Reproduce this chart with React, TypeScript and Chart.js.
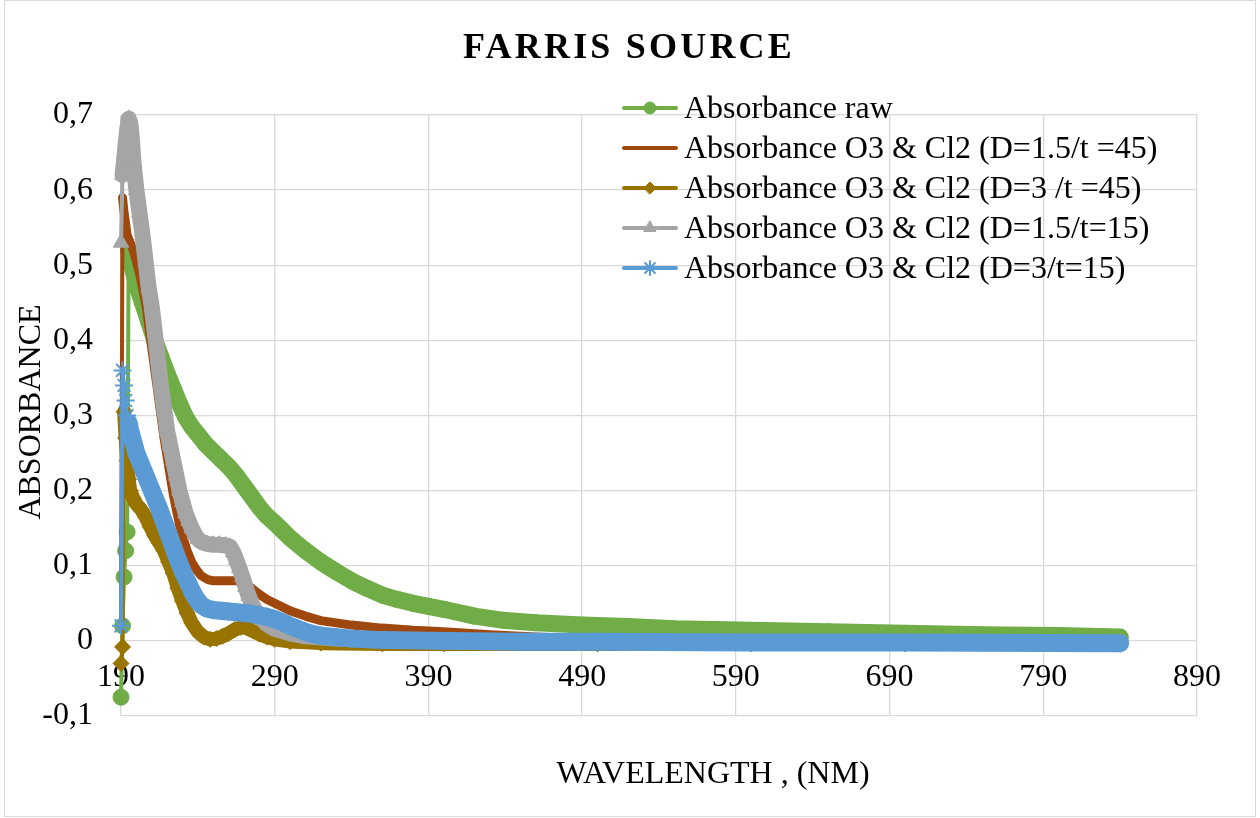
import React, { useEffect, useRef } from 'react';
import { Chart, registerables } from 'chart.js';
import { drawPoint } from 'chart.js/helpers';

Chart.register(...registerables);

const chartTitle = 'FARRIS SOURCE';
const xAxisTitle = 'WAVELENGTH , (NM)';
const yAxisTitle = 'ABSORBANCE';

const xTicks = [190, 290, 390, 490, 590, 690, 790, 890];
const yTicks = [-0.1, 0, 0.1, 0.2, 0.3, 0.4, 0.5, 0.6, 0.7];

const seriesNames = [
  'Absorbance raw',
  'Absorbance O3 & Cl2 (D=1.5/t =45)',
  'Absorbance O3 & Cl2 (D=3 /t =45)',
  'Absorbance O3 & Cl2 (D=1.5/t=15)',
  'Absorbance O3 & Cl2 (D=3/t=15)',
];

// Absorbance raw
const rawWl = [190, 191, 192, 193, 194, 195, 197, 200, 204, 208, 212, 216, 220, 224, 228, 232, 236, 240, 245, 250, 255, 260, 265, 270, 275, 280, 285, 290, 295, 300, 310, 320, 330, 340, 350, 360, 370, 380, 390, 400, 420, 440, 460, 490, 520, 550, 600, 650, 700, 750, 800, 840];
const rawAbs = [-0.075, 0.02, 0.085, 0.12, 0.145, 0.52, 0.5, 0.475, 0.45, 0.425, 0.4, 0.378, 0.356, 0.336, 0.316, 0.298, 0.285, 0.275, 0.262, 0.252, 0.242, 0.232, 0.22, 0.206, 0.192, 0.178, 0.166, 0.157, 0.147, 0.137, 0.12, 0.105, 0.092, 0.08, 0.07, 0.061, 0.055, 0.05, 0.046, 0.042, 0.033, 0.027, 0.024, 0.021, 0.019, 0.016, 0.014, 0.012, 0.01, 0.008, 0.007, 0.005];

// D=1.5 / t=45
const d15t45Wl = [190, 191, 192, 193, 194, 196, 198, 200, 202, 204, 206, 208, 210, 212, 214, 216, 218, 220, 222, 224, 226, 228, 230, 233, 236, 239, 242, 246, 250, 255, 260, 265, 270, 275, 280, 285, 290, 300, 310, 320, 340, 360, 380, 400, 430, 460, 500, 550, 600, 700, 840];
const d15t45Abs = [0.02, 0.59, 0.57, 0.555, 0.54, 0.53, 0.52, 0.505, 0.49, 0.47, 0.45, 0.42, 0.39, 0.36, 0.33, 0.3, 0.27, 0.245, 0.22, 0.195, 0.175, 0.155, 0.14, 0.12, 0.105, 0.095, 0.087, 0.082, 0.08, 0.08, 0.08, 0.08, 0.077, 0.07, 0.062, 0.055, 0.05, 0.04, 0.033, 0.027, 0.021, 0.017, 0.014, 0.012, 0.008, 0.005, 0.002, 0.001, 0, -0.001, -0.001];

// D=3 / t=45
const d3t45Wl = [190, 191, 192, 193, 194, 195, 196, 198, 200, 203, 206, 209, 212, 215, 218, 221, 224, 227, 230, 233, 236, 240, 244, 248, 252, 256, 260, 264, 268, 272, 276, 280, 285, 290, 300, 320, 360, 400, 500, 600, 700, 840];
const d3t45Abs = [-0.03, -0.008, 0.305, 0.27, 0.24, 0.215, 0.2, 0.19, 0.182, 0.175, 0.165, 0.152, 0.14, 0.13, 0.12, 0.105, 0.09, 0.07, 0.053, 0.037, 0.024, 0.012, 0.005, 0.002, 0.003, 0.006, 0.01, 0.015, 0.018, 0.017, 0.013, 0.009, 0.005, 0.002, -0.001, -0.003, -0.004, -0.004, -0.004, -0.004, -0.004, -0.004];

// D=1.5 / t=15
const d15t15Wl = [190, 191, 192, 193, 194, 195, 196, 197, 198, 199, 200, 202, 204, 206, 208, 210, 212, 214, 216, 218, 220, 222, 224, 226, 228, 230, 232, 234, 236, 238, 240, 243, 246, 250, 254, 258, 261, 263, 265, 267, 269, 271, 273, 275, 278, 282, 286, 290, 300, 310, 330, 360, 400, 500, 600, 700, 840];
const d15t15Abs = [0.53, 0.62, 0.64, 0.66, 0.68, 0.695, 0.69, 0.67, 0.64, 0.62, 0.6, 0.57, 0.54, 0.505, 0.47, 0.445, 0.41, 0.375, 0.34, 0.31, 0.28, 0.26, 0.24, 0.22, 0.2, 0.185, 0.17, 0.16, 0.15, 0.142, 0.136, 0.131, 0.129, 0.128, 0.128, 0.127, 0.125, 0.118, 0.108, 0.097, 0.085, 0.072, 0.06, 0.05, 0.038, 0.028, 0.021, 0.016, 0.01, 0.006, 0.003, 0.001, 0, -0.001, -0.002, -0.002, -0.002];

// D=3 / t=15
const d3t15Wl = [190, 191, 192, 193, 194, 195, 196, 198, 200, 203, 206, 209, 212, 215, 218, 221, 224, 227, 230, 233, 236, 239, 242, 246, 250, 255, 260, 265, 270, 275, 280, 285, 290, 295, 300, 305, 310, 315, 320, 330, 340, 360, 400, 450, 500, 600, 700, 840];
const d3t15Abs = [0.02, 0.36, 0.34, 0.32, 0.3, 0.29, 0.28, 0.265, 0.25, 0.235, 0.22, 0.205, 0.19, 0.175, 0.158, 0.142, 0.125, 0.108, 0.093, 0.08, 0.067, 0.056, 0.048, 0.043, 0.041, 0.04, 0.039, 0.038, 0.037, 0.036, 0.034, 0.032, 0.029, 0.025, 0.02, 0.016, 0.012, 0.009, 0.007, 0.005, 0.003, 0.001, 0, -0.001, -0.001, -0.002, -0.002, -0.003];

const seriesWl = [rawWl, d15t45Wl, d3t45Wl, d15t15Wl, d3t15Wl];
const seriesAbs = [rawAbs, d15t45Abs, d3t45Abs, d15t15Abs, d3t15Abs];

const FONT = '"Liberation Serif", "Times New Roman", serif';

const styles = [
  { color: '#70AD47', marker: 'circle', radius: 8, legendRadius: 6, band: 17, thin: 5 },
  { color: '#9E480E', marker: '', radius: 0, legendRadius: 0, band: 9, thin: 1 },
  { color: '#997300', marker: 'rectRot', radius: 8, legendRadius: 6, band: 14, thin: 2 },
  { color: '#A5A5A5', marker: 'triangle', radius: 9, legendRadius: 7, band: 16, thin: 1 },
  { color: '#5B9BD5', marker: 'star', radius: 9, legendRadius: 7, band: 18, thin: 5 },
];

const fmt = (v: number) => (Math.abs(v) < 1e-9 ? '0' : v.toFixed(1).replace('.', ','));

const decorPlugin = {
  id: 'decor',
  afterDraw(chart: any) {
    const ctx = chart.ctx as CanvasRenderingContext2D;
    ctx.save();
    ctx.fillStyle = '#000';
    // title
    ctx.font = `bold 36px ${FONT}`;
    (ctx as any).letterSpacing = '3.2px';
    ctx.textAlign = 'center';
    ctx.textBaseline = 'alphabetic';
    ctx.fillText(chartTitle, 629, 58);
    (ctx as any).letterSpacing = '0px';
    // x axis title
    ctx.font = `32px ${FONT}`;
    ctx.fillText(xAxisTitle, 713, 783);
    // y axis title
    ctx.save();
    ctx.translate(40, 412);
    ctx.rotate(-Math.PI / 2);
    ctx.fillText(yAxisTitle, 0, 0);
    ctx.restore();
    // legend
    const rows = [108, 148, 188, 228, 268];
    ctx.textAlign = 'left';
    seriesNames.forEach((name, i) => {
      const s = styles[i];
      const y = rows[i];
      ctx.strokeStyle = s.color;
      ctx.lineWidth = 4;
      ctx.lineCap = 'round';
      ctx.beginPath();
      ctx.moveTo(624, y);
      ctx.lineTo(676, y);
      ctx.stroke();
      if (s.marker) {
        ctx.fillStyle = s.color;
        ctx.strokeStyle = s.color;
        ctx.lineWidth = s.marker === 'star' ? 2 : 1;
        drawPoint(ctx, { pointStyle: s.marker as any, radius: s.legendRadius, rotation: 0, borderWidth: ctx.lineWidth }, 650, y);
      }
      ctx.fillStyle = '#000';
      ctx.fillText(name, 684, y + 10);
    });
    // outer frame
    ctx.strokeStyle = '#d9d9d9';
    ctx.lineWidth = 1;
    ctx.strokeRect(4.5, 0.5, 1251, 816);
    ctx.restore();
  },
};

export default function App() {
  const ref = useRef<HTMLCanvasElement | null>(null);
  useEffect(() => {
    if (!ref.current) return;
    const datasets = seriesNames.map((name, i) => {
      const s = styles[i];
      return {
        label: name,
        data: seriesWl[i].map((x, j) => ({ x, y: seriesAbs[i][j] })),
        borderColor: s.color,
        backgroundColor: s.color,
        borderWidth: s.band,
        borderJoinStyle: 'round' as const,
        borderCapStyle: 'round' as const,
        pointStyle: (s.marker || false) as any,
        pointRadius: s.marker ? s.radius : 0,
        pointBorderWidth: s.marker === 'star' ? 2 : 1,
        pointBackgroundColor: s.color,
        pointBorderColor: s.color,
        tension: 0,
        clip: false as any,
        order: 5 - i,
        segment: {
          borderWidth: (c: any) => (c.p0DataIndex < s.thin ? 4 : s.band),
        },
      };
    });
    const chart = new Chart(ref.current, {
      type: 'line',
      data: { datasets },
      plugins: [decorPlugin],
      options: {
        animation: false,
        responsive: false,
        devicePixelRatio: 1,
        parsing: false as any,
        layout: { padding: { top: 115, right: 63, bottom: 102, left: 0 } },
        plugins: { legend: { display: false }, title: { display: false }, tooltip: { enabled: false } },
        scales: {
          x: {
            type: 'linear',
            min: 190,
            max: 890,
            position: { y: 0 } as any,
            grid: { color: '#d9d9d9', lineWidth: 1.3, drawTicks: false },
            border: { display: false },
            ticks: { font: { family: FONT, size: 32 }, color: '#000', padding: 18, maxRotation: 0, autoSkip: false },
            afterBuildTicks: (sc: any) => { sc.ticks = xTicks.map((v) => ({ value: v })); },
            afterFit: (sc: any) => { sc.height = 0; sc.paddingLeft = 0; sc.paddingRight = 0; },
          },
          y: {
            type: 'linear',
            min: -0.1,
            max: 0.7,
            grid: { color: '#d9d9d9', lineWidth: 1.3, drawTicks: false },
            border: { display: false },
            ticks: { font: { family: FONT, size: 32 }, color: '#000', padding: 28, callback: (v: any) => fmt(Number(v)) },
            afterBuildTicks: (sc: any) => { sc.ticks = yTicks.map((v) => ({ value: v })); },
            afterFit: (sc: any) => { sc.width = 121; sc.paddingTop = 0; sc.paddingBottom = 0; },
          },
        },
      } as any,
    });
    return () => chart.destroy();
  }, []);
  return (
    <div style={{ position: 'fixed', left: 0, top: 0, width: 1260, height: 818, background: '#fff' }}>
      <canvas ref={ref} width={1260} height={818} />
    </div>
  );
}
